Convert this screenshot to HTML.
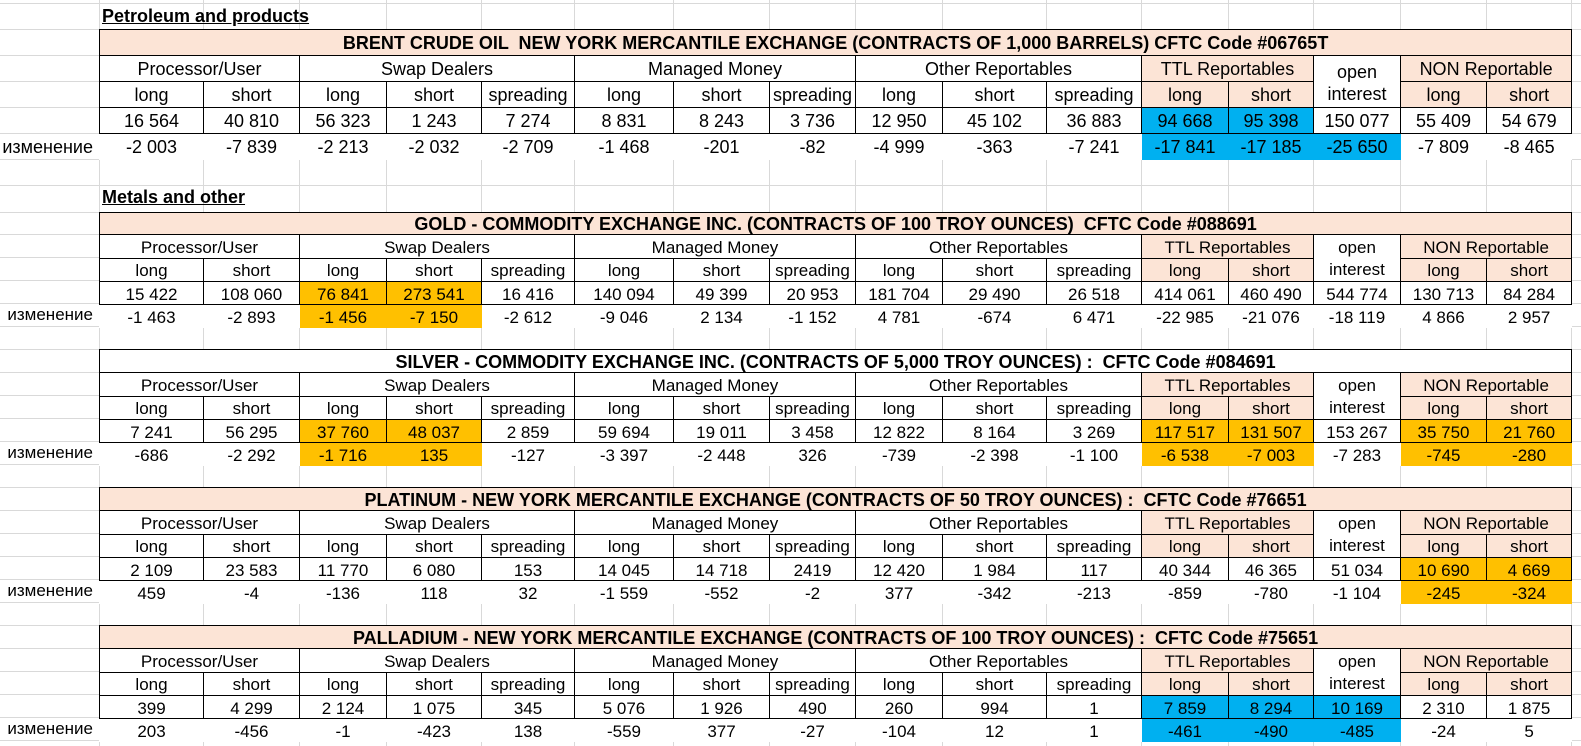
<!DOCTYPE html>
<html><head><meta charset="utf-8">
<style>
html,body{margin:0;padding:0;background:#fff;}
body{width:1581px;height:746px;position:relative;overflow:hidden;font-family:"Liberation Sans",Arial,sans-serif;}
.vl{position:absolute;top:0;width:1px;height:746px;background:#d9d9d9;}
.hl{position:absolute;left:0;height:1px;width:1581px;background:#d9d9d9;}
table{position:absolute;left:99px;border-collapse:collapse;table-layout:fixed;width:1473px;background:#fff;}
td{border:1px solid #000;text-align:center;padding:0;padding-top:2px;white-space:nowrap;overflow:hidden;font-size:17px;line-height:19px;color:#000;}
td.t{font-weight:bold;background:#fce4d6;white-space:pre;font-size:18px;}
td.tw{font-weight:bold;background:#fff;white-space:pre;font-size:18px;}
.p{background:#fce4d6;}
.b{background:#00b0f0;}
.y{background:#ffc000;}
tr.c td{border:none;background:#fff;}
tr.c td.b{background:#00b0f0;}
tr.c td.y{background:#ffc000;}
td.oi{line-height:22px;vertical-align:middle;}
.big td{font-size:18px;}
.lab{position:absolute;right:1488px;font-size:17px;}
.sec{position:absolute;left:102px;font-weight:bold;text-decoration:underline;font-size:18px;}
</style></head><body>
<div class="vl" style="left:99px"></div><div class="vl" style="left:203px"></div><div class="vl" style="left:299px"></div><div class="vl" style="left:386px"></div><div class="vl" style="left:481px"></div><div class="vl" style="left:574px"></div><div class="vl" style="left:673px"></div><div class="vl" style="left:769px"></div><div class="vl" style="left:855px"></div><div class="vl" style="left:942px"></div><div class="vl" style="left:1046px"></div><div class="vl" style="left:1141px"></div><div class="vl" style="left:1228px"></div><div class="vl" style="left:1313px"></div><div class="vl" style="left:1400px"></div><div class="vl" style="left:1486px"></div><div class="vl" style="left:1571px"></div>
<div class="hl" style="top:3px"></div><div class="hl" style="top:29px"></div><div class="hl" style="top:55px"></div><div class="hl" style="top:81px"></div><div class="hl" style="top:107px"></div><div class="hl" style="top:133px"></div><div class="hl" style="top:159px"></div><div class="hl" style="top:185px"></div><div class="hl" style="top:212px"></div><div class="hl" style="top:234px"></div><div class="hl" style="top:257px"></div><div class="hl" style="top:280px"></div><div class="hl" style="top:303px"></div><div class="hl" style="top:326px"></div><div class="hl" style="top:349px"></div><div class="hl" style="top:372px"></div><div class="hl" style="top:395px"></div><div class="hl" style="top:418px"></div><div class="hl" style="top:441px"></div><div class="hl" style="top:464px"></div><div class="hl" style="top:487px"></div><div class="hl" style="top:510px"></div><div class="hl" style="top:533px"></div><div class="hl" style="top:556px"></div><div class="hl" style="top:579px"></div><div class="hl" style="top:602px"></div><div class="hl" style="top:625px"></div><div class="hl" style="top:648px"></div><div class="hl" style="top:671px"></div><div class="hl" style="top:694px"></div><div class="hl" style="top:717px"></div><div class="hl" style="top:740px"></div>

<div class="sec" style="top:6px">Petroleum and products</div>
<div class="sec" style="top:187px">Metals and other</div>

<!-- BRENT -->
<table class="big" style="top:29px">
<colgroup><col style="width:104px"><col style="width:96px"><col style="width:87px"><col style="width:95px"><col style="width:93px"><col style="width:99px"><col style="width:96px"><col style="width:86px"><col style="width:87px"><col style="width:104px"><col style="width:95px"><col style="width:87px"><col style="width:85px"><col style="width:87px"><col style="width:86px"><col style="width:85px"></colgroup>
<tr style="height:26px"><td class="t" colspan="16">BRENT CRUDE OIL  NEW YORK MERCANTILE EXCHANGE (CONTRACTS OF 1,000 BARRELS) CFTC Code #06765T</td></tr>
<tr style="height:26px"><td colspan="2">Processor/User</td><td colspan="3">Swap Dealers</td><td colspan="3">Managed Money</td><td colspan="3">Other Reportables</td><td colspan="2" class="p">TTL Reportables</td><td rowspan="2" class="oi">open<br>interest</td><td colspan="2" class="p">NON Reportable</td></tr>
<tr style="height:26px"><td>long</td><td>short</td><td>long</td><td>short</td><td>spreading</td><td>long</td><td>short</td><td>spreading</td><td>long</td><td>short</td><td>spreading</td><td class="p">long</td><td class="p">short</td><td class="p">long</td><td class="p">short</td></tr>
<tr style="height:26px"><td>16 564</td><td>40 810</td><td>56 323</td><td>1 243</td><td>7 274</td><td>8 831</td><td>8 243</td><td>3 736</td><td>12 950</td><td>45 102</td><td>36 883</td><td class="b">94 668</td><td class="b">95 398</td><td>150 077</td><td>55 409</td><td>54 679</td></tr>
<tr class="c" style="height:26px"><td>-2 003</td><td>-7 839</td><td>-2 213</td><td>-2 032</td><td>-2 709</td><td>-1 468</td><td>-201</td><td>-82</td><td>-4 999</td><td>-363</td><td>-7 241</td><td class="b">-17 841</td><td class="b">-17 185</td><td class="b">-25 650</td><td>-7 809</td><td>-8 465</td></tr>
</table>
<div class="lab" style="top:137px;font-size:18px">изменение</div>

<!-- GOLD -->
<table style="top:212px">
<colgroup><col style="width:104px"><col style="width:96px"><col style="width:87px"><col style="width:95px"><col style="width:93px"><col style="width:99px"><col style="width:96px"><col style="width:86px"><col style="width:87px"><col style="width:104px"><col style="width:95px"><col style="width:87px"><col style="width:85px"><col style="width:87px"><col style="width:86px"><col style="width:85px"></colgroup>
<tr style="height:22px"><td class="t" colspan="16">GOLD - COMMODITY EXCHANGE INC. (CONTRACTS OF 100 TROY OUNCES)  CFTC Code #088691</td></tr>
<tr style="height:23px"><td colspan="2">Processor/User</td><td colspan="3">Swap Dealers</td><td colspan="3">Managed Money</td><td colspan="3">Other Reportables</td><td colspan="2" class="p">TTL Reportables</td><td rowspan="2" class="oi">open<br>interest</td><td colspan="2" class="p">NON Reportable</td></tr>
<tr style="height:23px"><td>long</td><td>short</td><td>long</td><td>short</td><td>spreading</td><td>long</td><td>short</td><td>spreading</td><td>long</td><td>short</td><td>spreading</td><td class="p">long</td><td class="p">short</td><td class="p">long</td><td class="p">short</td></tr>
<tr style="height:23px"><td>15 422</td><td>108 060</td><td class="y">76 841</td><td class="y">273 541</td><td>16 416</td><td>140 094</td><td>49 399</td><td>20 953</td><td>181 704</td><td>29 490</td><td>26 518</td><td>414 061</td><td>460 490</td><td>544 774</td><td>130 713</td><td>84 284</td></tr>
<tr class="c" style="height:23px"><td>-1 463</td><td>-2 893</td><td class="y">-1 456</td><td class="y">-7 150</td><td>-2 612</td><td>-9 046</td><td>2 134</td><td>-1 152</td><td>4 781</td><td>-674</td><td>6 471</td><td>-22 985</td><td>-21 076</td><td>-18 119</td><td>4 866</td><td>2 957</td></tr>
</table>
<div class="lab" style="top:305px">изменение</div>

<!-- SILVER -->
<table style="top:349px">
<colgroup><col style="width:104px"><col style="width:96px"><col style="width:87px"><col style="width:95px"><col style="width:93px"><col style="width:99px"><col style="width:96px"><col style="width:86px"><col style="width:87px"><col style="width:104px"><col style="width:95px"><col style="width:87px"><col style="width:85px"><col style="width:87px"><col style="width:86px"><col style="width:85px"></colgroup>
<tr style="height:23px"><td class="tw" colspan="16">SILVER - COMMODITY EXCHANGE INC. (CONTRACTS OF 5,000 TROY OUNCES) :  CFTC Code #084691</td></tr>
<tr style="height:23px"><td colspan="2">Processor/User</td><td colspan="3">Swap Dealers</td><td colspan="3">Managed Money</td><td colspan="3">Other Reportables</td><td colspan="2" class="p">TTL Reportables</td><td rowspan="2" class="oi">open<br>interest</td><td colspan="2" class="p">NON Reportable</td></tr>
<tr style="height:23px"><td>long</td><td>short</td><td>long</td><td>short</td><td>spreading</td><td>long</td><td>short</td><td>spreading</td><td>long</td><td>short</td><td>spreading</td><td class="p">long</td><td class="p">short</td><td class="p">long</td><td class="p">short</td></tr>
<tr style="height:23px"><td>7 241</td><td>56 295</td><td class="y">37 760</td><td class="y">48 037</td><td>2 859</td><td>59 694</td><td>19 011</td><td>3 458</td><td>12 822</td><td>8 164</td><td>3 269</td><td class="y">117 517</td><td class="y">131 507</td><td>153 267</td><td class="y">35 750</td><td class="y">21 760</td></tr>
<tr class="c" style="height:23px"><td>-686</td><td>-2 292</td><td class="y">-1 716</td><td class="y">135</td><td>-127</td><td>-3 397</td><td>-2 448</td><td>326</td><td>-739</td><td>-2 398</td><td>-1 100</td><td class="y">-6 538</td><td class="y">-7 003</td><td>-7 283</td><td class="y">-745</td><td class="y">-280</td></tr>
</table>
<div class="lab" style="top:443px">изменение</div>

<!-- PLATINUM -->
<table style="top:487px">
<colgroup><col style="width:104px"><col style="width:96px"><col style="width:87px"><col style="width:95px"><col style="width:93px"><col style="width:99px"><col style="width:96px"><col style="width:86px"><col style="width:87px"><col style="width:104px"><col style="width:95px"><col style="width:87px"><col style="width:85px"><col style="width:87px"><col style="width:86px"><col style="width:85px"></colgroup>
<tr style="height:23px"><td class="t" colspan="16">PLATINUM - NEW YORK MERCANTILE EXCHANGE (CONTRACTS OF 50 TROY OUNCES) :  CFTC Code #76651</td></tr>
<tr style="height:23px"><td colspan="2">Processor/User</td><td colspan="3">Swap Dealers</td><td colspan="3">Managed Money</td><td colspan="3">Other Reportables</td><td colspan="2" class="p">TTL Reportables</td><td rowspan="2" class="oi">open<br>interest</td><td colspan="2" class="p">NON Reportable</td></tr>
<tr style="height:23px"><td>long</td><td>short</td><td>long</td><td>short</td><td>spreading</td><td>long</td><td>short</td><td>spreading</td><td>long</td><td>short</td><td>spreading</td><td class="p">long</td><td class="p">short</td><td class="p">long</td><td class="p">short</td></tr>
<tr style="height:23px"><td>2 109</td><td>23 583</td><td>11 770</td><td>6 080</td><td>153</td><td>14 045</td><td>14 718</td><td>2419</td><td>12 420</td><td>1 984</td><td>117</td><td>40 344</td><td>46 365</td><td>51 034</td><td class="y">10 690</td><td class="y">4 669</td></tr>
<tr class="c" style="height:23px"><td>459</td><td>-4</td><td>-136</td><td>118</td><td>32</td><td>-1 559</td><td>-552</td><td>-2</td><td>377</td><td>-342</td><td>-213</td><td>-859</td><td>-780</td><td>-1 104</td><td class="y">-245</td><td class="y">-324</td></tr>
</table>
<div class="lab" style="top:581px">изменение</div>

<!-- PALLADIUM -->
<table style="top:625px">
<colgroup><col style="width:104px"><col style="width:96px"><col style="width:87px"><col style="width:95px"><col style="width:93px"><col style="width:99px"><col style="width:96px"><col style="width:86px"><col style="width:87px"><col style="width:104px"><col style="width:95px"><col style="width:87px"><col style="width:85px"><col style="width:87px"><col style="width:86px"><col style="width:85px"></colgroup>
<tr style="height:23px"><td class="t" colspan="16">PALLADIUM - NEW YORK MERCANTILE EXCHANGE (CONTRACTS OF 100 TROY OUNCES) :  CFTC Code #75651</td></tr>
<tr style="height:23px"><td colspan="2">Processor/User</td><td colspan="3">Swap Dealers</td><td colspan="3">Managed Money</td><td colspan="3">Other Reportables</td><td colspan="2" class="p">TTL Reportables</td><td rowspan="2" class="oi">open<br>interest</td><td colspan="2" class="p">NON Reportable</td></tr>
<tr style="height:23px"><td>long</td><td>short</td><td>long</td><td>short</td><td>spreading</td><td>long</td><td>short</td><td>spreading</td><td>long</td><td>short</td><td>spreading</td><td class="p">long</td><td class="p">short</td><td class="p">long</td><td class="p">short</td></tr>
<tr style="height:23px"><td>399</td><td>4 299</td><td>2 124</td><td>1 075</td><td>345</td><td>5 076</td><td>1 926</td><td>490</td><td>260</td><td>994</td><td>1</td><td class="b">7 859</td><td class="b">8 294</td><td class="b">10 169</td><td>2 310</td><td>1 875</td></tr>
<tr class="c" style="height:23px"><td>203</td><td>-456</td><td>-1</td><td>-423</td><td>138</td><td>-559</td><td>377</td><td>-27</td><td>-104</td><td>12</td><td>1</td><td class="b">-461</td><td class="b">-490</td><td class="b">-485</td><td>-24</td><td>5</td></tr>
</table>
<div class="lab" style="top:719px">изменение</div>
</body></html>
